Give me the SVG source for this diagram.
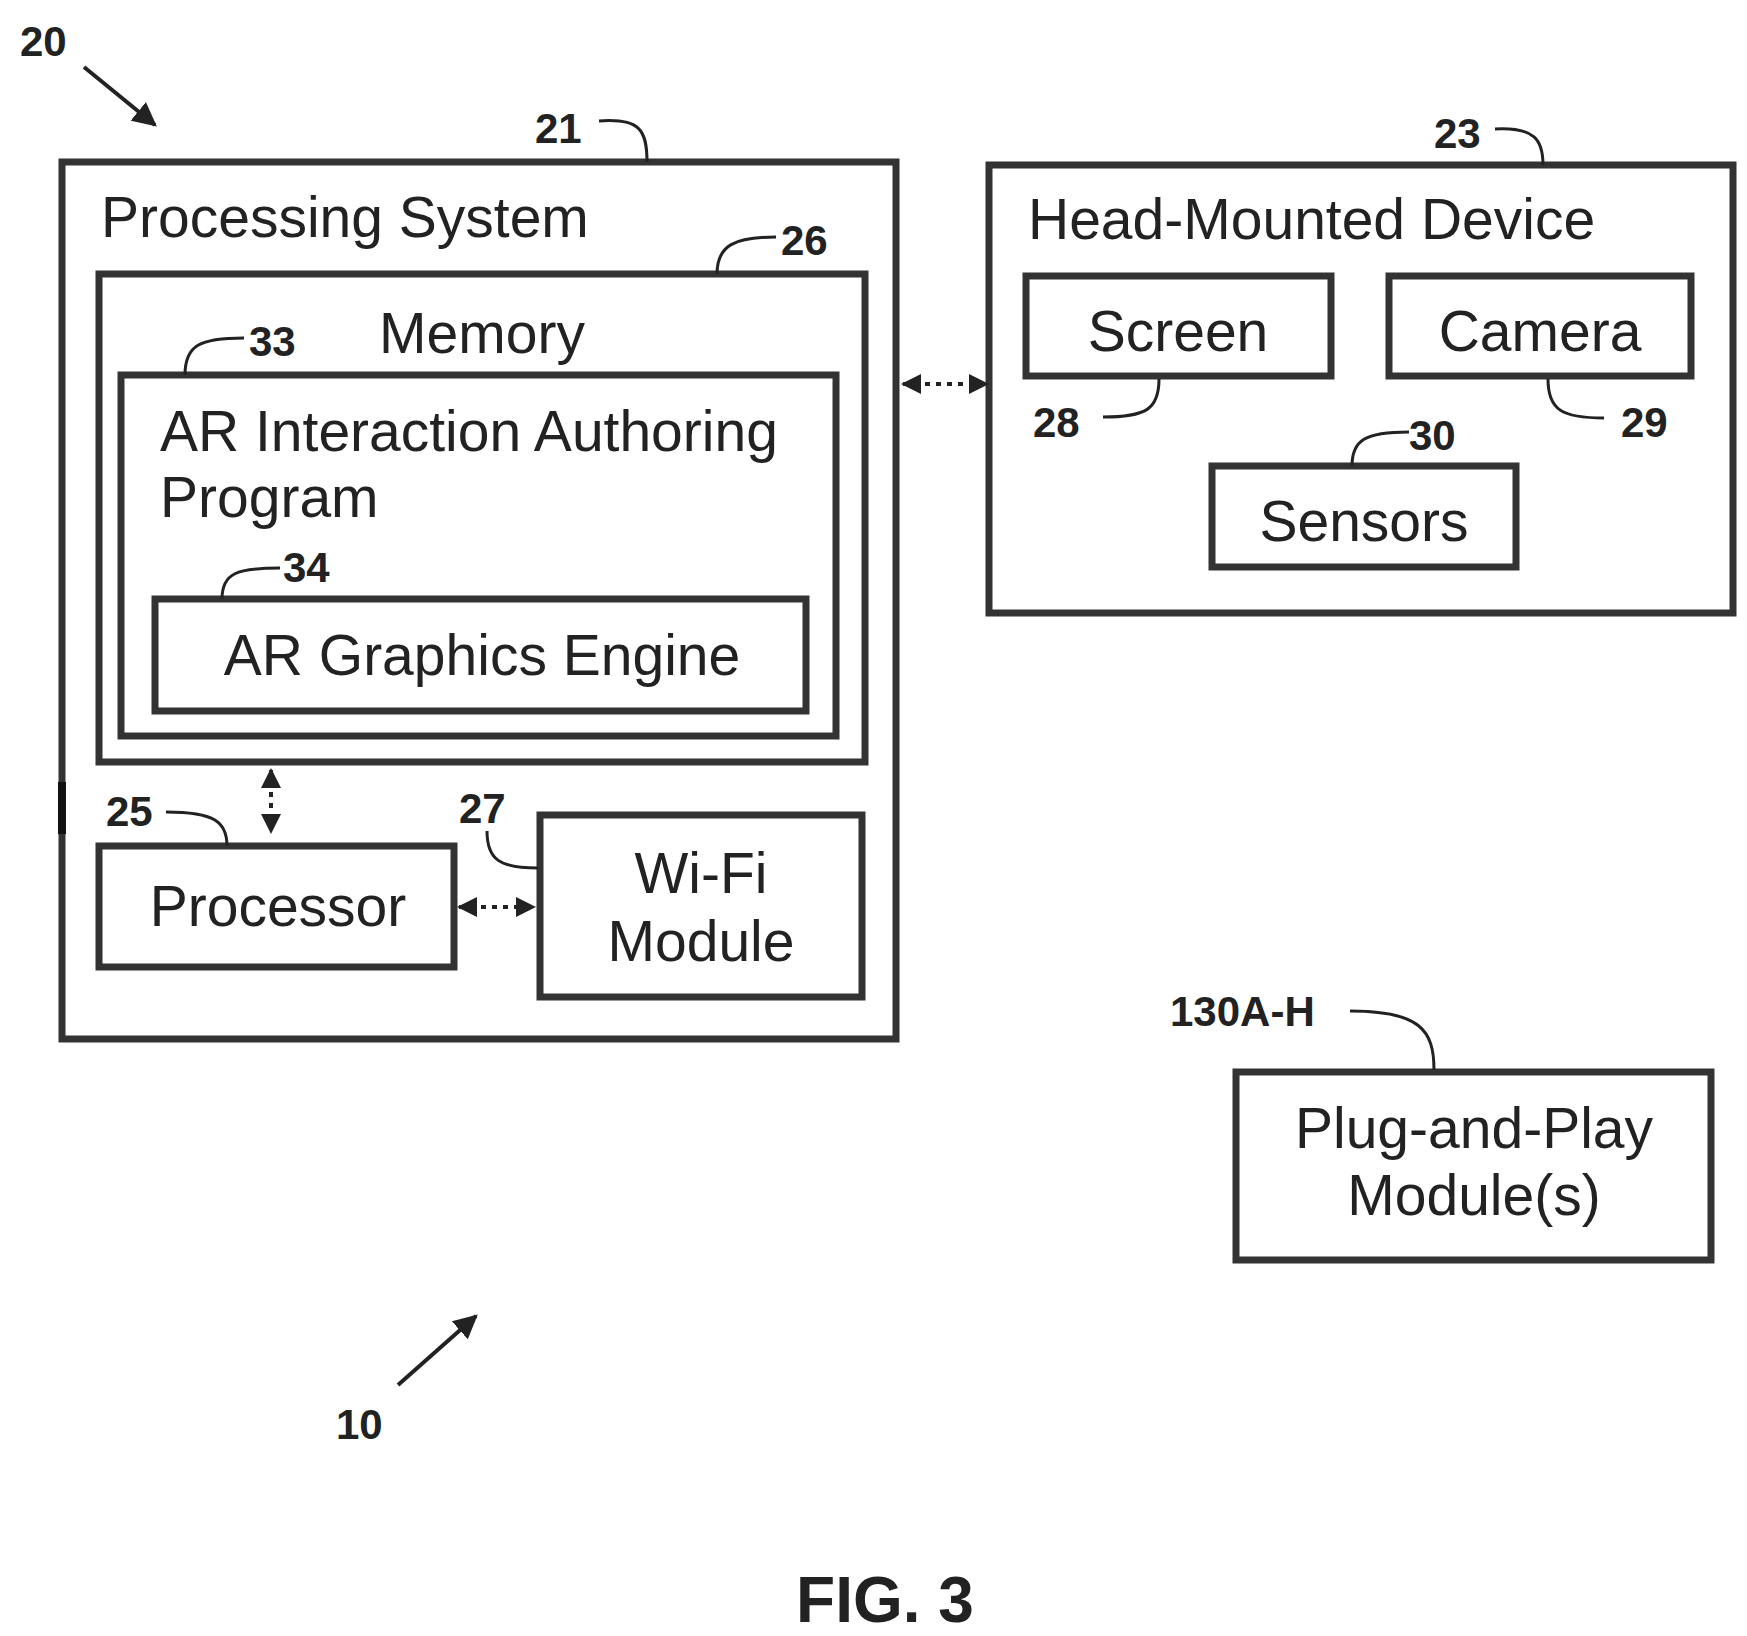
<svg xmlns="http://www.w3.org/2000/svg" width="1747" height="1636" viewBox="0 0 1747 1636">
<defs>
<marker id="ah" viewBox="0 0 10 10" refX="9" refY="5" markerWidth="5" markerHeight="5" orient="auto-start-reverse"><path d="M0,0 L10,5 L0,10 z" fill="#222"/></marker>
<marker id="ah2" viewBox="0 0 10 10" refX="9" refY="5" markerWidth="6" markerHeight="6" orient="auto"><path d="M0,0 L10,5 L0,10 z" fill="#222"/></marker>
</defs>
<style>
.box{fill:none;stroke:#333;stroke-width:7}
.t{font-family:"Liberation Sans",Arial,sans-serif;fill:#222}
.lbl{font-family:"Liberation Sans",Arial,sans-serif;font-weight:bold;font-size:42px;fill:#222}
.lead{fill:none;stroke:#222;stroke-width:3}
.dash{stroke:#222;stroke-width:4;stroke-dasharray:5,6;fill:none}
</style>
<rect width="1747" height="1636" fill="#fff"/>
<g id="processing-system">
<rect class="box" x="62" y="162" width="834" height="877"/>
<rect x="58" y="782" width="8" height="52" fill="#111"/>
<text class="t" x="101" y="237" font-size="57">Processing System</text>
<text class="lbl" x="535" y="143">21</text>
<path class="lead" d="M599,121 C640,118 647,130 647,162"/>
</g>
<g id="memory">
<rect class="box" x="99" y="274" width="766" height="488"/>
<text class="t" x="482" y="353" font-size="57" text-anchor="middle">Memory</text>
<text class="lbl" x="781" y="255">26</text>
<path class="lead" d="M717,274 C717,245 735,237 776,237"/>
</g>
<g id="ar-program">
<rect class="box" x="121" y="375" width="715" height="361"/>
<text class="t" x="160" y="451" font-size="57">AR Interaction Authoring</text>
<text class="t" x="160" y="517" font-size="57">Program</text>
<text class="lbl" x="249" y="356">33</text>
<path class="lead" d="M185,375 C185,345 200,338 244,338"/>
</g>
<g id="ar-graphics">
<rect class="box" x="155" y="599" width="651" height="112"/>
<text class="t" x="482" y="675" font-size="57" text-anchor="middle">AR Graphics Engine</text>
<text class="lbl" x="283" y="582">34</text>
<path class="lead" d="M222,599 C222,573 237,568 280,568"/>
</g>
<g id="processor">
<rect class="box" x="99" y="846" width="355" height="121"/>
<text class="t" x="278" y="926" font-size="57" text-anchor="middle">Processor</text>
<text class="lbl" x="106" y="826">25</text>
<path class="lead" d="M166,812 C215,812 227,822 227,846"/>
</g>
<g id="wifi">
<rect class="box" x="540" y="815" width="322" height="182"/>
<text class="t" x="701" y="893" font-size="57" text-anchor="middle">Wi-Fi</text>
<text class="t" x="701" y="961" font-size="57" text-anchor="middle">Module</text>
<text class="lbl" x="459" y="823">27</text>
<path class="lead" d="M487,831 C487,860 500,868 538,868"/>
</g>
<g id="hmd">
<rect class="box" x="989" y="165" width="744" height="448"/>
<text class="t" x="1028" y="239" font-size="57">Head-Mounted Device</text>
<text class="lbl" x="1434" y="148">23</text>
<path class="lead" d="M1495,129 C1535,127 1543,140 1543,165"/>
</g>
<g id="screen">
<rect class="box" x="1026" y="276" width="305" height="100"/>
<text class="t" x="1178" y="351" font-size="57" text-anchor="middle">Screen</text>
<text class="lbl" x="1033" y="437">28</text>
<path class="lead" d="M1159,379 C1159,410 1145,417 1103,417"/>
</g>
<g id="camera">
<rect class="box" x="1389" y="276" width="302" height="100"/>
<text class="t" x="1540" y="351" font-size="57" text-anchor="middle">Camera</text>
<text class="lbl" x="1621" y="437">29</text>
<path class="lead" d="M1548,379 C1548,410 1562,418 1604,418"/>
</g>
<g id="sensors">
<rect class="box" x="1212" y="466" width="304" height="101"/>
<text class="t" x="1364" y="541" font-size="57" text-anchor="middle">Sensors</text>
<text class="lbl" x="1409" y="450">30</text>
<path class="lead" d="M1352,466 C1352,440 1365,432 1409,432"/>
</g>
<g id="plug-and-play">
<rect class="box" x="1236" y="1072" width="475" height="188"/>
<text class="t" x="1474" y="1148" font-size="57" text-anchor="middle">Plug-and-Play</text>
<text class="t" x="1474" y="1215" font-size="57" text-anchor="middle">Module(s)</text>
<text class="lbl" x="1170" y="1026">130A-H</text>
<path class="lead" d="M1350,1011 C1420,1011 1434,1030 1434,1070"/>
</g>
<g id="connectors">
<line class="dash" x1="271" y1="770" x2="271" y2="832" marker-start="url(#ah)" marker-end="url(#ah)"/>
<line class="dash" x1="459" y1="907" x2="534" y2="907" marker-start="url(#ah)" marker-end="url(#ah)"/>
<line class="dash" x1="903" y1="384" x2="987" y2="384" marker-start="url(#ah)" marker-end="url(#ah)"/>
<line x1="84" y1="67" x2="155" y2="125" stroke="#222" stroke-width="4" marker-end="url(#ah2)"/>
<line x1="398" y1="1385" x2="476" y2="1316" stroke="#222" stroke-width="4" marker-end="url(#ah2)"/>
</g>
<text class="lbl" x="20" y="56">20</text>
<text class="lbl" x="336" y="1439">10</text>
<text class="t" x="885" y="1622" font-size="64" font-weight="bold" text-anchor="middle">FIG. 3</text>
</svg>
